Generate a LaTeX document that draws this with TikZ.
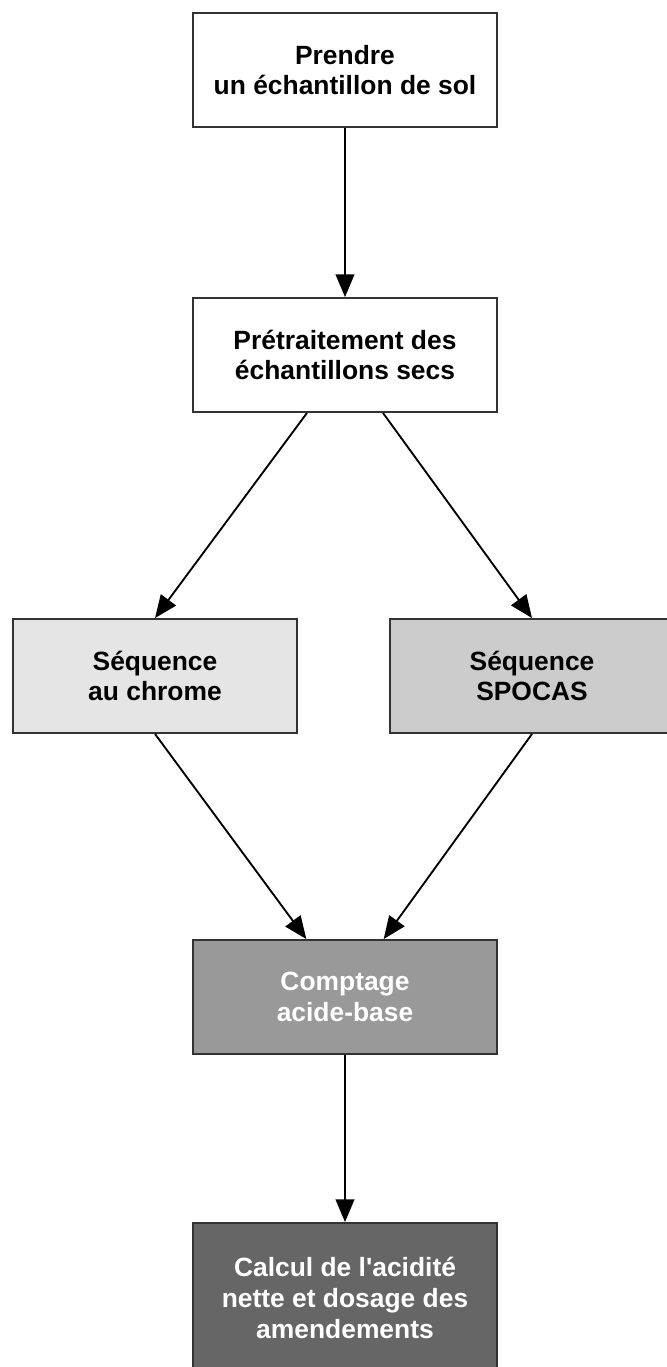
\documentclass[tikz,border=0pt]{standalone}
\usepackage{fontspec}
\setmainfont{Liberation Sans}
\usetikzlibrary{arrows.meta}

\begin{document}
\begin{tikzpicture}[x=0.75pt,y=-0.75pt,
        box/.style={draw=black!80, line width=1.4pt, minimum width=228pt, minimum height=85.5pt, inner sep=0pt, align=center, font=\fontsize{19.8}{23}\selectfont\bfseries},
        arr/.style={black, line width=1.4pt, -{Triangle[length=17pt,width=14pt]}}]
        \useasboundingbox (0,0) rectangle (667,1367);
        \node[box, fill=white] (prendre) at (345,70) {Prendre\\un échantillon de sol};
        \node[box, fill=white] (pretr) at (345,355) {Prétraitement des\\échantillons secs};
        \node[box, fill=black!10, minimum width=213pt] (chrome) at (155,676) {Séquence\\au chrome};
        \node[box, fill=black!20, minimum width=213pt] (spocas) at (532,676) {Séquence\\SPOCAS};
        \node[box, fill=black!40, text=white] (comptage) at (345,997) {Comptage\\acide-base};
        \node[box, fill=black!60, text=white, minimum height=112.5pt] (calcul) at (345,1298) {Calcul de l\textquotesingle acidité\\nette et dosage des\\amendements};
        \draw[arr] (prendre.south) -- (pretr.north);
        \draw[arr] ([xshift=-28.5pt]pretr.south) -- (chrome.north);
        \draw[arr] ([xshift=28.5pt]pretr.south) -- (spocas.north);
        \draw[arr] (chrome.south) -- ([xshift=-29pt]comptage.north);
        \draw[arr] (spocas.south) -- ([xshift=29pt]comptage.north);
        \draw[arr] (comptage.south) -- (calcul.north);
\end{tikzpicture}
\end{document}
